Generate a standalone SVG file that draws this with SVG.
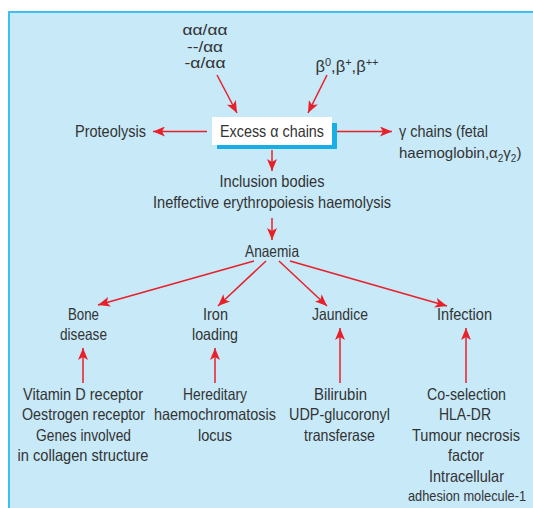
<svg xmlns="http://www.w3.org/2000/svg" width="533" height="508" viewBox="0 0 533 508">
<defs>
<marker id="ah" markerUnits="userSpaceOnUse" markerWidth="12" markerHeight="10" viewBox="0 0 12 10" refX="12" refY="5" orient="auto">
<path d="M0,0 L12,5 L0,10 L3,5 z" fill="#e8202a"/>
</marker>
<style>
text{font-family:"Liberation Sans",Arial,sans-serif;font-size:16.5px;fill:#333;text-anchor:middle}
.l{text-anchor:start}
.s{font-size:15px}
.c line{stroke:#e8202a;stroke-width:1.5;marker-end:url(#ah)}
</style>
</defs>
<rect x="9" y="12" width="530" height="500" fill="#c7e9f8" stroke="#3dbff0" stroke-width="2"/>
<g class="c" id="connectors">
<line x1="217" y1="75" x2="237" y2="113"/>
<line x1="327" y1="75" x2="308" y2="113"/>
<line x1="207" y1="131.5" x2="153" y2="131.5"/>
<line x1="337" y1="131.5" x2="392" y2="131.5"/>
<line x1="272" y1="150" x2="272" y2="171"/>
<line x1="272" y1="218" x2="272" y2="240"/>
<line x1="254" y1="261" x2="98" y2="305"/>
<line x1="266" y1="261" x2="218" y2="306"/>
<line x1="279" y1="261" x2="327" y2="306"/>
<line x1="290" y1="261" x2="447" y2="306"/>
<line x1="83" y1="383" x2="83" y2="348"/>
<line x1="215" y1="383" x2="215" y2="348"/>
<line x1="340" y1="383" x2="340" y2="328"/>
<line x1="466" y1="383" x2="466" y2="328"/>
</g>
<g id="alpha-genotypes">
<text class="s" x="205" y="35" textLength="45" lengthAdjust="spacingAndGlyphs">αα/αα</text>
<text class="s" x="205" y="52" textLength="36" lengthAdjust="spacingAndGlyphs">--/αα</text>
<text class="s" x="205" y="68" textLength="41" lengthAdjust="spacingAndGlyphs">-α/αα</text>
</g>
<g id="beta-genotypes">
<text x="347" y="72">β<tspan dy="-6" font-size="11">0</tspan><tspan dy="6">,β</tspan><tspan dy="-6" font-size="11">+</tspan><tspan dy="6">,β</tspan><tspan dy="-6" font-size="11">++</tspan></text>
</g>
<g id="excess">
<rect x="217" y="123" width="120" height="26" fill="#1aaee6"/>
<rect x="212" y="117" width="120" height="28" fill="#fff"/>
<text x="272" y="137" textLength="104" lengthAdjust="spacingAndGlyphs">Excess α chains</text>
</g>
<g id="proteolysis"><text x="110.5" y="137" textLength="71" lengthAdjust="spacingAndGlyphs">Proteolysis</text></g>
<g id="gamma">
<text class="l" x="399" y="137" textLength="89" lengthAdjust="spacingAndGlyphs">γ chains (fetal</text>
<text class="l s" x="399" y="158">haemoglobin,α<tspan dy="4" font-size="10">2</tspan><tspan dy="-4">γ</tspan><tspan dy="4" font-size="10">2</tspan><tspan dy="-4">)</tspan></text>
</g>
<g id="inclusion">
<text x="272" y="187" textLength="105" lengthAdjust="spacingAndGlyphs">Inclusion bodies</text>
<text x="272" y="208" textLength="238" lengthAdjust="spacingAndGlyphs">Ineffective erythropoiesis haemolysis</text>
</g>
<g id="anaemia"><text x="272" y="257" textLength="54" lengthAdjust="spacingAndGlyphs">Anaemia</text></g>
<g id="bone"><text x="83.5" y="320" textLength="31" lengthAdjust="spacingAndGlyphs">Bone</text><text x="83.5" y="340" textLength="47" lengthAdjust="spacingAndGlyphs">disease</text></g>
<g id="iron"><text x="215.5" y="320" textLength="25" lengthAdjust="spacingAndGlyphs">Iron</text><text x="215" y="340" textLength="46" lengthAdjust="spacingAndGlyphs">loading</text></g>
<g id="jaundice"><text x="340" y="320" textLength="56" lengthAdjust="spacingAndGlyphs">Jaundice</text></g>
<g id="infection"><text x="464.5" y="320" textLength="55" lengthAdjust="spacingAndGlyphs">Infection</text></g>
<g id="bone-genes">
<text x="83" y="400" textLength="120" lengthAdjust="spacingAndGlyphs">Vitamin D receptor</text>
<text x="83.5" y="420" textLength="123" lengthAdjust="spacingAndGlyphs">Oestrogen receptor</text>
<text x="83.5" y="441" textLength="95" lengthAdjust="spacingAndGlyphs">Genes involved</text>
<text x="83" y="461" textLength="131" lengthAdjust="spacingAndGlyphs">in collagen structure</text>
</g>
<g id="iron-genes">
<text x="215" y="400" textLength="64" lengthAdjust="spacingAndGlyphs">Hereditary</text>
<text x="215" y="420" textLength="122" lengthAdjust="spacingAndGlyphs">haemochromatosis</text>
<text x="215" y="441" textLength="34" lengthAdjust="spacingAndGlyphs">locus</text>
</g>
<g id="jaundice-genes">
<text x="340.5" y="400" textLength="53" lengthAdjust="spacingAndGlyphs">Bilirubin</text>
<text x="339.5" y="420" textLength="101" lengthAdjust="spacingAndGlyphs">UDP-glucoronyl</text>
<text x="339.5" y="441" textLength="71" lengthAdjust="spacingAndGlyphs">transferase</text>
</g>
<g id="infection-genes">
<text x="466.5" y="400" textLength="79" lengthAdjust="spacingAndGlyphs">Co-selection</text>
<text x="465" y="420" textLength="52" lengthAdjust="spacingAndGlyphs">HLA-DR</text>
<text x="466" y="441" textLength="108" lengthAdjust="spacingAndGlyphs">Tumour necrosis</text>
<text x="466" y="461" textLength="36" lengthAdjust="spacingAndGlyphs">factor</text>
<text x="466.5" y="482" textLength="75" lengthAdjust="spacingAndGlyphs">Intracellular</text>
<text class="s" x="467" y="501" textLength="118" lengthAdjust="spacingAndGlyphs">adhesion molecule-1</text>
</g>
</svg>
